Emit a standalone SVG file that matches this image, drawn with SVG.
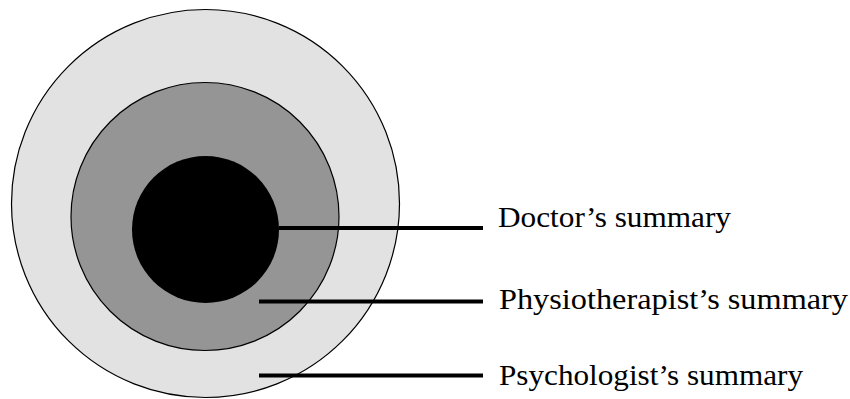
<svg xmlns="http://www.w3.org/2000/svg" width="850" height="399" viewBox="0 0 850 399">
<style>
.ring{stroke:#000;stroke-width:1.2}
.lbl{font-family:"Liberation Serif","Times New Roman",serif;font-size:30px;fill:#000}
.conn{stroke:#000;stroke-width:4;fill:none}
</style>
<rect width="850" height="399" fill="#fff"/>
<g id="psychologist">
<circle class="ring" cx="205.5" cy="203.5" r="194" fill="#e2e2e2"/>
</g>
<g id="physiotherapist">
<circle class="ring" cx="205" cy="216.5" r="134" fill="#959595"/>
</g>
<g id="doctor">
<circle cx="205.5" cy="229.5" r="73.5" fill="#000"/>
</g>
<g id="connectors">
<line class="conn" x1="279" y1="228" x2="483" y2="228"/>
<line class="conn" x1="259" y1="301.5" x2="483" y2="301.5"/>
<line class="conn" x1="259" y1="375.5" x2="483" y2="375.5"/>
</g>
<g id="labels">
<text class="lbl" x="498" y="227" textLength="233" lengthAdjust="spacingAndGlyphs">Doctor’s summary</text>
<text class="lbl" x="499" y="309" textLength="349" lengthAdjust="spacingAndGlyphs">Physiotherapist’s summary</text>
<text class="lbl" x="499" y="385" textLength="304" lengthAdjust="spacingAndGlyphs">Psychologist’s summary</text>
</g>
</svg>
